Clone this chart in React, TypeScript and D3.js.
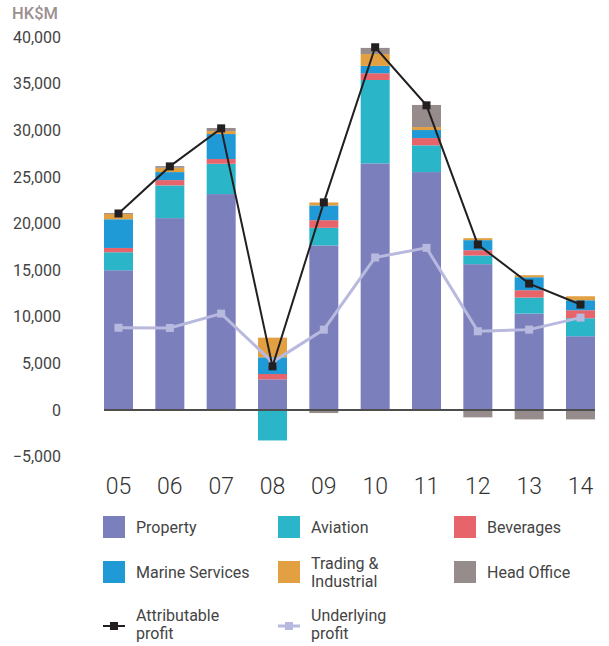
import React from "react";
import * as d3 from "d3";

// Profit by division, HK$M
const years = ["05", "06", "07", "08", "09", "10", "11", "12", "13", "14"];
const property = [14980, 20570, 23150, 3280, 17640, 26440, 25510, 15630, 10330, 7900];
const aviation = [1930, 3510, 3250, -3280, 1890, 8950, 2870, 930, 1720, 1930];
const beverages = [460, 570, 510, 570, 820, 720, 780, 570, 790, 860];
const marine = [3080, 860, 2680, 1790, 1580, 790, 860, 1080, 1390, 1070];
const trading = [570, 460, 320, 2110, 320, 1280, 320, 210, 220, 430];
const headOffice = [100, 180, 330, 0, -340, 650, 2370, -800, -1020, -1020];
const attributable = [21070, 26120, 30200, 4670, 22260, 38900, 32670, 17740, 13550, 11300];
const underlying = [8810, 8790, 10330, 5130, 8610, 16350, 17380, 8430, 8610, 9900];
const yTicks = [-5000, 0, 5000, 10000, 15000, 20000, 25000, 30000, 35000, 40000];

const seriesKeys = ["Property", "Aviation", "Beverages", "Marine Services", "Trading & Industrial", "Head Office"];
const seriesColors = ["#7b7fbc", "#2bb5c8", "#e8646b", "#1f9ad6", "#e3a043", "#968c8b"];

const FONT = "Roboto, 'Noto Sans', sans-serif";

export default function App() {
  const width = 609;
  const height = 646;

  const rows = years.map((yr, i) => ({
    year: yr,
    Property: property[i],
    Aviation: aviation[i],
    Beverages: beverages[i],
    "Marine Services": marine[i],
    "Trading & Industrial": trading[i],
    "Head Office": headOffice[i],
  }));

  const stacked = d3
    .stack<any>()
    .keys(seriesKeys)
    .offset(d3.stackOffsetDiverging)(rows);

  const x = d3.scaleBand().domain(years).range([104, 595]).paddingInner(0.435).paddingOuter(0);
  const y = d3.scaleLinear().domain([-5000, 40000]).range([456.5, 37]);
  const cx = (yr: string) => (x(yr) as number) + x.bandwidth() / 2;

  const line = d3
    .line<number>()
    .x((_, i) => cx(years[i]))
    .y((d) => y(d));

  // legend layout
  const colX = [103, 278, 454];
  const rowY = [527, 572, 624];

  return (
    <svg width={width} height={height} style={{ position: "absolute", left: 0, top: 0 }} fontFamily={FONT}>
      {/* unit label */}
      <text x={12} y={19} fontSize={16.5} fill="#9b9090" fontWeight={500}>
        HK$M
      </text>

      {/* y tick labels */}
      {yTicks.map((t) => (
        <text key={t} x={61} y={y(t)} dy="0.36em" textAnchor="end" fontSize={16} fill="#444">
          {d3.format(",")(t)}
        </text>
      ))}

      {/* stacked bars */}
      {stacked.map((s, si) => (
        <g key={s.key} fill={seriesColors[si]}>
          {s.map((d, i) => {
            const top = y(Math.max(d[0], d[1]));
            const bot = y(Math.min(d[0], d[1]));
            if (bot - top <= 0) return null;
            return <rect key={i} x={x(years[i])} y={top} width={x.bandwidth()} height={bot - top} />;
          })}
        </g>
      ))}

      {/* zero line */}
      <line x1={104} x2={595} y1={y(0)} y2={y(0)} stroke="#4d4d4d" strokeWidth={2} />

      {/* underlying profit */}
      <path d={line(underlying) || ""} fill="none" stroke="#b8b9de" strokeWidth={3} />
      {underlying.map((v, i) => (
        <rect key={i} x={cx(years[i]) - 4} y={y(v) - 4} width={8} height={8} fill="#b8b9de" />
      ))}

      {/* attributable profit */}
      <path d={line(attributable) || ""} fill="none" stroke="#231f20" strokeWidth={2} />
      {attributable.map((v, i) => (
        <rect key={i} x={cx(years[i]) - 4} y={y(v) - 4} width={8} height={8} fill="#231f20" />
      ))}

      {/* x labels */}
      {years.map((yr) => (
        <text key={yr} x={cx(yr)} y={486} dy="0.36em" textAnchor="middle" fontSize={23} fontWeight={300} fill="#333">
          {yr}
        </text>
      ))}

      {/* legend */}
      {seriesKeys.map((k, i) => {
        const lx = colX[i % 3];
        const ly = rowY[Math.floor(i / 3)];
        const lines = k === "Trading & Industrial" ? ["Trading &", "Industrial"] : [k];
        return (
          <g key={k}>
            <rect x={lx} y={ly - 11} width={22} height={22} fill={seriesColors[i]} />
            {lines.map((t, j) => (
              <text
                key={t}
                x={lx + 33}
                y={ly + (j - (lines.length - 1) / 2) * 18.5}
                dy="0.36em"
                fontSize={16}
                fill="#444"
              >
                {t}
              </text>
            ))}
          </g>
        );
      })}

      {[
        { label: ["Attributable", "profit"], color: "#231f20", w: 2 },
        { label: ["Underlying", "profit"], color: "#b8b9de", w: 3 },
      ].map((l, i) => {
        const lx = colX[i];
        const ly = rowY[2];
        return (
          <g key={l.label[0]}>
            <line x1={lx} x2={lx + 22} y1={ly + 2} y2={ly + 2} stroke={l.color} strokeWidth={l.w} />
            <rect x={lx + 7} y={ly - 2} width={8} height={8} fill={l.color} />
            {l.label.map((t, j) => (
              <text key={t} x={lx + 33} y={ly - 9 + j * 18.5} dy="0.36em" fontSize={16} fill="#444">
                {t}
              </text>
            ))}
          </g>
        );
      })}
    </svg>
  );
}
